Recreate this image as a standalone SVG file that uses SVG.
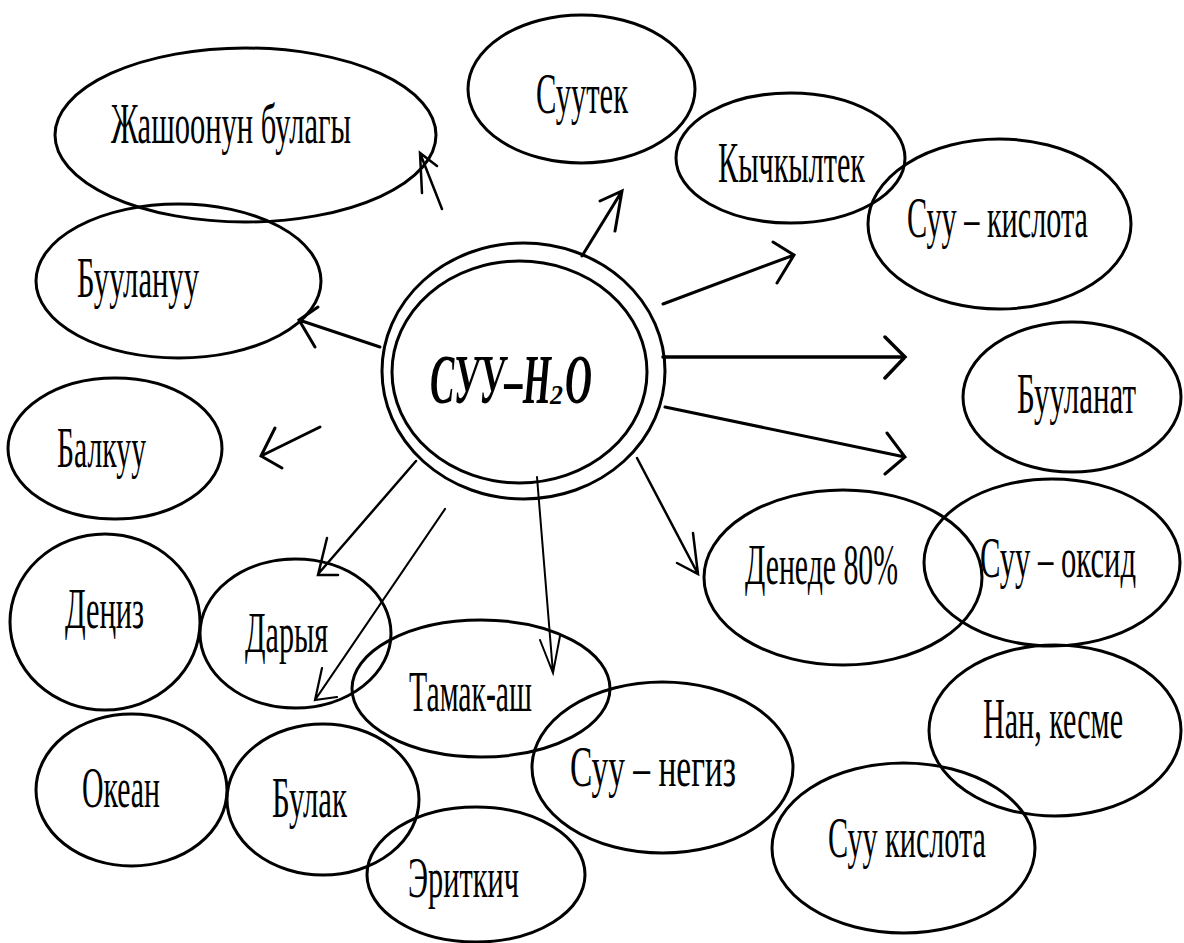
<svg xmlns="http://www.w3.org/2000/svg" width="1184" height="943" viewBox="0 0 1184 943">
<style>
.n{fill:none;stroke:#000;stroke-width:3}
.t{font-family:"Liberation Serif","Times New Roman",serif;font-size:57px;fill:#000;text-anchor:middle}
.c{fill:none;stroke:#000;stroke-width:3;stroke-linecap:round;stroke-linejoin:miter}
.h{font-family:"Liberation Serif","Times New Roman",serif;font-size:70px;font-weight:bold;font-style:italic;fill:#000}
</style>
<rect width="1184" height="943" fill="#fff"/>
<g id="connectors">
<path class="c" style="stroke-width:2.5" d="M442,209 L420,153 M437,166 L420,153 L422,193"/>
<path class="c" d="M380,347 L299,320 M318,307 L299,320 L315,347"/>
<path class="c" d="M320,427 L261,456 M275,428 L261,456 L282,468"/>
<path class="c" style="stroke-width:2.5" d="M416,461 L319,573 M327,538 L318,575 L338,575"/>
<path class="c" style="stroke-width:2.2" d="M445,509 L315,700 M322,668 L315,700 L337,697"/>
<path class="c" style="stroke-width:2" d="M537,477 L553,673 M540,640 L553,673 L560,636"/>
<path class="c" style="stroke-width:2.5" d="M637,458 L698,574 M693,533 L698,574 L677,563"/>
<path class="c" d="M665,407 L905,457 M887,433 L905,457 L885,474"/>
<path class="c" style="stroke-width:3.5" d="M663,357 L905,357 M885,337 L905,357 L885,378"/>
<path class="c" d="M663,304 L794,255 M773,242 L794,255 L777,283"/>
<path class="c" d="M582,256 L622,191 M600,201 L622,191 L615,231"/>
</g>
<g id="center">
<ellipse class="n" cx="523.5" cy="371" rx="141.5" ry="128"/>
<ellipse class="n" cx="519.5" cy="372" rx="127.5" ry="111"/>
<text class="h" x="430" y="403" textLength="121" lengthAdjust="spacingAndGlyphs">СУУ–Н</text>
<text class="h" x="550" y="404" style="font-size:27px" textLength="13" lengthAdjust="spacingAndGlyphs">2</text>
<text class="h" x="565" y="403" textLength="27" lengthAdjust="spacingAndGlyphs">О</text>
</g>
<g id="n-zhashoo"><ellipse class="n" cx="245.5" cy="135" rx="190.5" ry="87"/><text class="t" x="231" y="143" textLength="240" lengthAdjust="spacingAndGlyphs">Жашоонун булагы</text></g>
<g id="n-suutek"><ellipse class="n" cx="581.5" cy="89" rx="113.5" ry="74"/><text class="t" x="582" y="113" textLength="92" lengthAdjust="spacingAndGlyphs">Суутек</text></g>
<g id="n-kychkyltek"><ellipse class="n" cx="790.5" cy="158" rx="114.5" ry="65"/><text class="t" x="791.5" y="182" textLength="147" lengthAdjust="spacingAndGlyphs">Кычкылтек</text></g>
<g id="n-suu-kislota"><ellipse class="n" cx="999.5" cy="224" rx="131.5" ry="85"/><text class="t" x="997.5" y="237" textLength="181" lengthAdjust="spacingAndGlyphs">Суу – кислота</text></g>
<g id="n-buulanuu"><ellipse class="n" cx="178.5" cy="281" rx="142.5" ry="77"/><text class="t" x="138" y="297" textLength="122" lengthAdjust="spacingAndGlyphs">Буулануу</text></g>
<g id="n-buulanat"><ellipse class="n" cx="1072" cy="397" rx="109" ry="75"/><text class="t" x="1076.5" y="413" textLength="119" lengthAdjust="spacingAndGlyphs">Бууланат</text></g>
<g id="n-balkuu"><ellipse class="n" cx="115" cy="448.5" rx="107" ry="70.5"/><text class="t" x="101.5" y="467" textLength="89" lengthAdjust="spacingAndGlyphs">Балкуу</text></g>
<g id="n-deniz"><ellipse class="n" cx="105" cy="622" rx="95" ry="88"/><text class="t" x="104.5" y="628" textLength="79" lengthAdjust="spacingAndGlyphs">Деңиз</text></g>
<g id="n-darya"><ellipse class="n" cx="295.5" cy="633.5" rx="95.5" ry="74.5"/><text class="t" x="286.5" y="652" textLength="83" lengthAdjust="spacingAndGlyphs">Дарыя</text></g>
<g id="n-tamak"><ellipse class="n" cx="481" cy="688.5" rx="129" ry="68.5"/><text class="t" x="470.5" y="711" textLength="123" lengthAdjust="spacingAndGlyphs">Тамак-аш</text></g>
<g id="n-okean"><ellipse class="n" cx="131.5" cy="790" rx="95.5" ry="76"/><text class="t" x="121" y="807" textLength="78" lengthAdjust="spacingAndGlyphs">Океан</text></g>
<g id="n-bulak"><ellipse class="n" cx="323" cy="799.5" rx="96" ry="75.5"/><text class="t" x="309.5" y="817" textLength="75" lengthAdjust="spacingAndGlyphs">Булак</text></g>
<g id="n-eritkich"><ellipse class="n" cx="476" cy="874.5" rx="109" ry="67.5"/><text class="t" x="463.5" y="897" textLength="111" lengthAdjust="spacingAndGlyphs">Эриткич</text></g>
<g id="n-suu-negiz"><ellipse class="n" cx="662.5" cy="767.5" rx="130.5" ry="85.5"/><text class="t" x="653" y="786" textLength="166" lengthAdjust="spacingAndGlyphs">Суу – негиз</text></g>
<g id="n-denede"><ellipse class="n" cx="843" cy="577.5" rx="139" ry="87.5"/><text class="t" x="821.5" y="584" textLength="153" lengthAdjust="spacingAndGlyphs">Денеде 80%</text></g>
<g id="n-suu-oksid"><ellipse class="n" cx="1052" cy="562.5" rx="128" ry="83.5"/><text class="t" x="1058" y="577" textLength="156" lengthAdjust="spacingAndGlyphs">Суу – оксид</text></g>
<g id="n-nan"><ellipse class="n" cx="1055" cy="730.5" rx="126" ry="85.5"/><text class="t" x="1053" y="738" textLength="140" lengthAdjust="spacingAndGlyphs">Нан, кесме</text></g>
<g id="n-suu-kislota2"><ellipse class="n" cx="903.5" cy="848" rx="131.5" ry="85"/><text class="t" x="907" y="857" textLength="158" lengthAdjust="spacingAndGlyphs">Суу кислота</text></g>
</svg>
